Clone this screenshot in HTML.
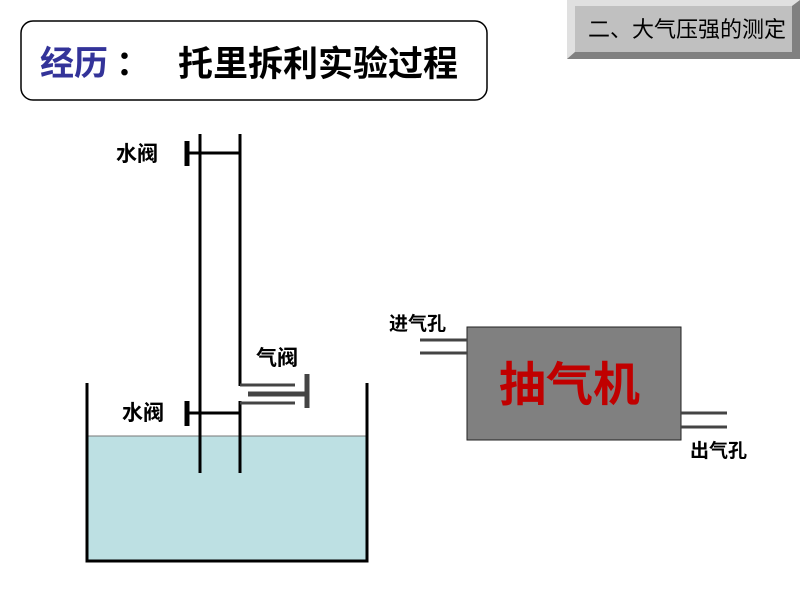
<!DOCTYPE html>
<html><head><meta charset="utf-8"><style>
body{margin:0;width:800px;height:600px;background:#fff;overflow:hidden;position:relative;font-family:"Liberation Sans","Noto Sans CJK SC",sans-serif}
.t{position:absolute;white-space:nowrap;line-height:1}
.b{font-weight:bold}
</style></head><body>
<svg width="800" height="600" style="position:absolute;left:0;top:0">
<rect x="21" y="21" width="466" height="79" rx="12" fill="#fff" stroke="#000" stroke-width="1.5"/>
<rect x="567" y="0" width="233" height="59" fill="#c0c0c0"/>
<polygon points="567,0 800,0 792,6 575,6 575,52 567,59" fill="#e0e0e0"/>
<polygon points="567,59 800,59 800,0 792,6 792,52 575,52" fill="#808080"/>
<rect x="575" y="6" width="217" height="46" fill="#c0c0c0"/>
<rect x="88" y="436" width="278" height="124" fill="#bde0e3"/>
<line x1="88" y1="436" x2="366" y2="436" stroke="#777" stroke-width="1"/>
<polyline points="87,383 87,561 367,561 367,383" fill="none" stroke="#000" stroke-width="3"/>
<line x1="200" y1="134" x2="200" y2="473" stroke="#000" stroke-width="3"/>
<line x1="240" y1="134" x2="240" y2="386" stroke="#000" stroke-width="3"/>
<line x1="240" y1="401" x2="240" y2="473" stroke="#000" stroke-width="3"/>
<line x1="188" y1="153" x2="240" y2="153" stroke="#000" stroke-width="3"/>
<line x1="187" y1="141" x2="187" y2="166" stroke="#000" stroke-width="5"/>
<line x1="188" y1="413" x2="240" y2="413" stroke="#000" stroke-width="3"/>
<line x1="187" y1="401" x2="187" y2="426" stroke="#000" stroke-width="5"/>
<line x1="240" y1="385" x2="295" y2="385" stroke="#444" stroke-width="3"/>
<line x1="240" y1="403" x2="295" y2="403" stroke="#444" stroke-width="3"/>
<line x1="248" y1="394" x2="306" y2="394" stroke="#444" stroke-width="5"/>
<line x1="307" y1="374" x2="307" y2="408" stroke="#444" stroke-width="5"/>
<rect x="467" y="327" width="214" height="113" fill="#808080" stroke="#222" stroke-width="1"/>
<line x1="420" y1="340" x2="467" y2="340" stroke="#444" stroke-width="3"/>
<line x1="420" y1="353" x2="467" y2="353" stroke="#444" stroke-width="3"/>
<line x1="681" y1="413" x2="727" y2="413" stroke="#444" stroke-width="3"/>
<line x1="681" y1="427" x2="727" y2="427" stroke="#444" stroke-width="3"/>
</svg>
<div class="t b" style="left:40px;top:47px;font-size:34px;color:#333399">经历</div>
<div class="t b" style="left:116px;top:47px;font-size:34px;color:#000">：</div>
<div class="t b" style="left:178px;top:47px;font-size:35px;color:#000">托里拆利实验过程</div>
<div class="t" style="left:588px;top:19px;font-size:22px;color:#000">二、大气压强的测定</div>
<div class="t b" style="left:116px;top:144px;font-size:21px;color:#000">水阀</div>
<div class="t b" style="left:122px;top:403px;font-size:21px;color:#000">水阀</div>
<div class="t b" style="left:256px;top:348px;font-size:21px;color:#000">气阀</div>
<div class="t b" style="left:389px;top:315px;font-size:19px;color:#000">进气孔</div>
<div class="t b" style="left:690px;top:442px;font-size:19px;color:#000">出气孔</div>
<div class="t b" style="left:499px;top:361px;font-size:47px;color:#c00000">抽气机</div>
</body></html>
